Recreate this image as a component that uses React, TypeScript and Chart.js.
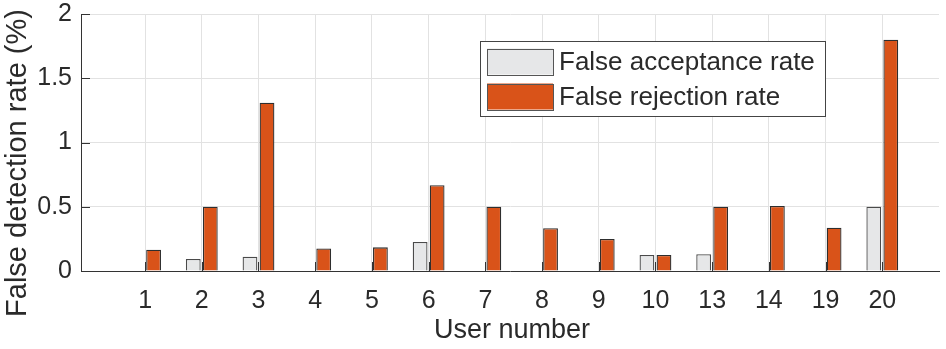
import React, { useEffect, useRef } from 'react';
import { Chart, registerables } from 'chart.js';

Chart.register(...registerables);

const categories = ['1', '2', '3', '4', '5', '6', '7', '8', '9', '10', '13', '14', '19', '20'];
const falseAcceptance = [0, 0.093, 0.111, 0, 0, 0.226, 0, 0, 0, 0.125, 0.13, 0, 0, 0.5];
const falseRejection = [0.165, 0.5, 1.31, 0.176, 0.184, 0.667, 0.5, 0.333, 0.25, 0.125, 0.5, 0.506, 0.337, 1.8];
const seriesLabels = ['False acceptance rate', 'False rejection rate'];
const yTicks = [0, 0.5, 1, 1.5, 2];
const xTitle = 'User number';
const yTitle = 'False detection rate (%)';

const FONT = '"Liberation Sans", Arial, Helvetica, sans-serif';
const TEXT = '#2a2a2a';
const AXIS = '#333333';
const GRID = '#e2e2e2';
const FILLS = ['#e6e7e8', '#d95319'];
const BORDERS = ['#4a4a4a', '#2e2e2e'];

const decorPlugin = {
  id: 'decor',
  afterDatasetsDraw(chart: any) {
    const ctx = chart.ctx;
    const ca = chart.chartArea;
    const xs = chart.scales.x;
    const ys = chart.scales.y;
    ctx.save();
    ctx.strokeStyle = AXIS;
    ctx.lineWidth = 1;
    ctx.beginPath();
    ys.ticks.forEach((t: any) => {
      const y = Math.round(ys.getPixelForValue(t.value)) + 0.5;
      ctx.moveTo(ca.left, y);
      ctx.lineTo(ca.left + 9, y);
    });
    xs.ticks.forEach((t: any) => {
      const x = Math.round(xs.getPixelForValue(t.value)) + 0.5;
      ctx.moveTo(x, ca.bottom);
      ctx.lineTo(x, ca.bottom - 9);
    });
    ctx.stroke();
    ctx.restore();
  },
  afterDraw(chart: any) {
    const ctx = chart.ctx;
    const ca = chart.chartArea;
    ctx.save();
    // legend
    const bx = ca.left + 399;
    const by = ca.top + 27;
    const bw = 345;
    const bh = 75;
    ctx.fillStyle = '#ffffff';
    ctx.fillRect(bx, by, bw, bh);
    ctx.strokeStyle = '#444444';
    ctx.lineWidth = 1;
    ctx.strokeRect(Math.round(bx) + 0.5, Math.round(by) + 0.5, bw, bh);
    ctx.font = `26px ${FONT}`;
    ctx.textBaseline = 'middle';
    ctx.textAlign = 'left';
    chart.data.datasets.forEach((ds: any, i: number) => {
      const sy = by + 7.5 + i * 35;
      ctx.fillStyle = ds.backgroundColor;
      ctx.fillRect(bx + 7, sy, 66, 26);
      ctx.strokeStyle = '#555555';
      ctx.strokeRect(Math.round(bx + 7) + 0.5, Math.round(sy) + 0.5, 66, 26);
      ctx.fillStyle = TEXT;
      ctx.fillText(ds.label, bx + 79, sy + 14);
    });
    // x title
    ctx.font = `27px ${FONT}`;
    ctx.textAlign = 'center';
    ctx.textBaseline = 'alphabetic';
    ctx.fillStyle = TEXT;
    ctx.fillText(xTitle, (ca.left + ca.right) / 2 + 2, 338);
    // y title
    ctx.font = `29px ${FONT}`;
    ctx.translate(25.5, 163);
    ctx.rotate(-Math.PI / 2);
    ctx.fillText(yTitle, 0, 0);
    ctx.restore();
  },
};

export default function App() {
  const ref = useRef<HTMLCanvasElement>(null);
  useEffect(() => {
    document.body.style.margin = '0';
    const canvas = ref.current;
    if (!canvas) return;
    const chart = new Chart(canvas, {
      type: 'bar',
      data: {
        datasets: [falseAcceptance, falseRejection].map((vals, i) => ({
          label: seriesLabels[i],
          data: vals.map((y, j) => ({ x: j + 1, y })),
          backgroundColor: FILLS[i],
          borderColor: BORDERS[i],
          borderWidth: 1.3,
          borderSkipped: 'start',
        })),
      },
      options: {
        responsive: false,
        animation: false,
        layout: { padding: { top: 14, right: 7, left: 0, bottom: 0 } },
        datasets: { bar: { categoryPercentage: 0.6, barPercentage: 0.87 } },
        plugins: { legend: { display: false }, tooltip: { enabled: false } },
        scales: {
          x: {
            type: 'linear',
            min: -0.13,
            max: 15,
            offset: false,
            afterBuildTicks: (s: any) => {
              s.ticks = categories.map((_, i) => ({ value: i + 1 }));
            },
            afterFit: (s: any) => {
              s.height = 78;
              s.paddingLeft = 0;
              s.paddingRight = 0;
            },
            ticks: {
              callback: (v: any) => categories[Number(v) - 1] ?? '',
              font: { family: FONT, size: 25 },
              color: TEXT,
              padding: 15,
              maxRotation: 0,
              autoSkip: false,
            },
            grid: { color: GRID, drawTicks: false, offset: false },
            border: { display: true, color: AXIS, width: 1 },
          },
          y: {
            min: 0,
            max: 2,
            afterBuildTicks: (s: any) => {
              s.ticks = yTicks.map((v) => ({ value: v }));
            },
            afterFit: (s: any) => {
              s.width = 81;
              s.paddingTop = 0;
              s.paddingBottom = 0;
            },
            ticks: {
              callback: (v: any) => String(v),
              font: { family: FONT, size: 25 },
              color: TEXT,
              padding: 9,
            },
            grid: { color: GRID, drawTicks: false },
            border: { display: true, color: AXIS, width: 1 },
          },
        },
      } as any,
      plugins: [decorPlugin],
    });
    return () => chart.destroy();
  }, []);
  return <canvas ref={ref} width={946} height={349} style={{ display: 'block' }} />;
}
